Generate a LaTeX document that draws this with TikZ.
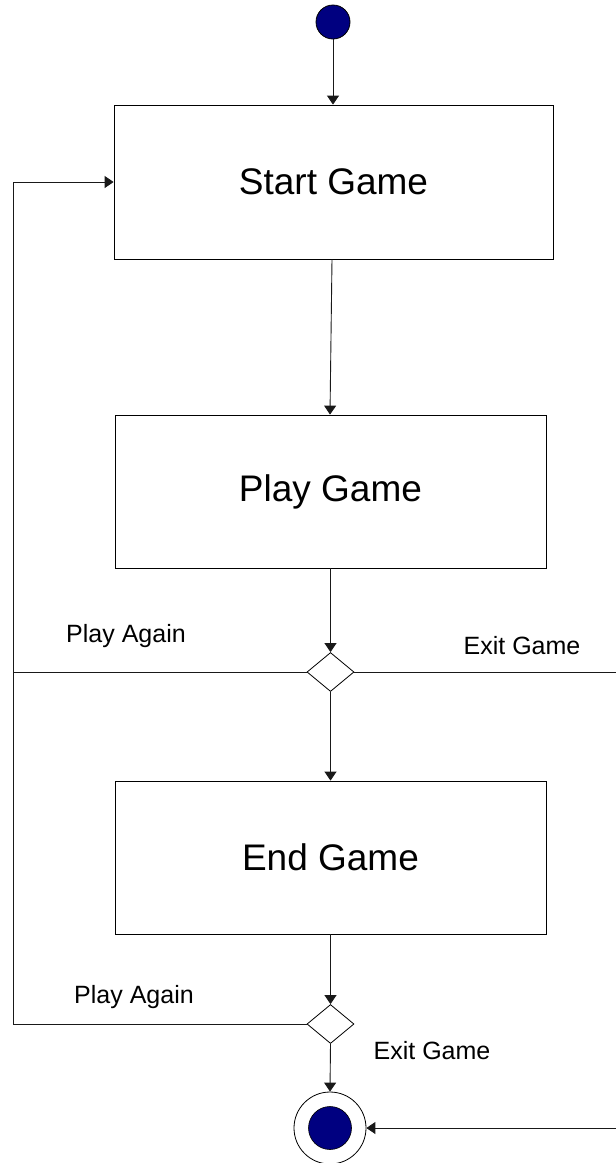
\documentclass[tikz,border=0pt]{standalone}
\usepackage{fontspec}
\setmainfont{Liberation Sans}
\usetikzlibrary{arrows.meta,shapes.geometric,calc}
\definecolor{navyfill}{RGB}{0,0,128}
\tikzset{
  actbox/.style={draw=black,line width=0.8pt,fill=white,minimum width=439pt,minimum height=154pt,inner sep=0pt,font=\fontsize{37}{44}\selectfont},
  decis/.style={draw=black,line width=0.8pt,diamond,aspect=1.2,minimum width=47pt,minimum height=39pt,inner sep=0pt},
  flow/.style={draw=black!90,line width=0.9pt,-{Triangle[width=12pt,length=9pt]}},
  plain/.style={draw=black!90,line width=0.9pt},
  lbl/.style={font=\fontsize{25}{30}\selectfont,inner sep=0pt}
}
\begin{document}
\begin{tikzpicture}[x=1pt,y=-1pt]
\useasboundingbox (0,0) rectangle (616,1163);
\clip (0,0) rectangle (616,1163);
\node[circle,draw=black,line width=0.8pt,fill=navyfill,minimum size=34pt,inner sep=0pt] (init) at (333,22) {};
\node[actbox,minimum width=439pt] (start) at (333.5,182) {Start Game};
\node[actbox,minimum width=431pt,minimum height=153pt] (play) at (330.5,491.5) {Play Game};
\node[actbox,minimum width=431pt,minimum height=153pt] (endg) at (330.5,857.5) {End Game};
\node[decis] (d1) at (330.5,672) {};
\node[decis] (d2) at (330.5,1024) {};
\node[circle,draw=black,line width=0.8pt,fill=white,minimum size=72pt,inner sep=0pt] (fin) at (330,1128) {};
\node[circle,draw=black,line width=0.6pt,fill=navyfill,minimum size=43pt,inner sep=0pt] at (fin) {};
\coordinate (lt) at (13,182);
\coordinate (lm) at (13,672);
\coordinate (lb) at (13,1024);
\coordinate (rt) at (630,672);
\coordinate (rb) at (630,1128);
\draw[flow] (init) -- (init |- start.north);
\draw[flow] ($(start.south)+(-1.5,0)$) -- ($(play.north)+(-0.5,0)$);
\draw[flow] (play.south) -- (d1.north);
\draw[flow] (d1.south) -- (endg.north);
\draw[flow] (endg.south) -- (d2.north);
\draw[flow] (d2.south) -- (fin.north);
\draw[flow] (d1.west) -- (lm) -- (lt) -- (start.west);
\draw[plain] (d2.west) -- (lb) -- (lm);
\draw[flow] (d1.east) -- (rt) -- (rb) -- (fin.east);
\node[lbl] (pa1) at (126,636) {Play Again};
\node[lbl] (eg1) at (522,646) {Exit Game};
\node[lbl] (pa2) at (134,997) {Play Again};
\node[lbl] (eg2) at (432,1051) {Exit Game};
\end{tikzpicture}
\end{document}
